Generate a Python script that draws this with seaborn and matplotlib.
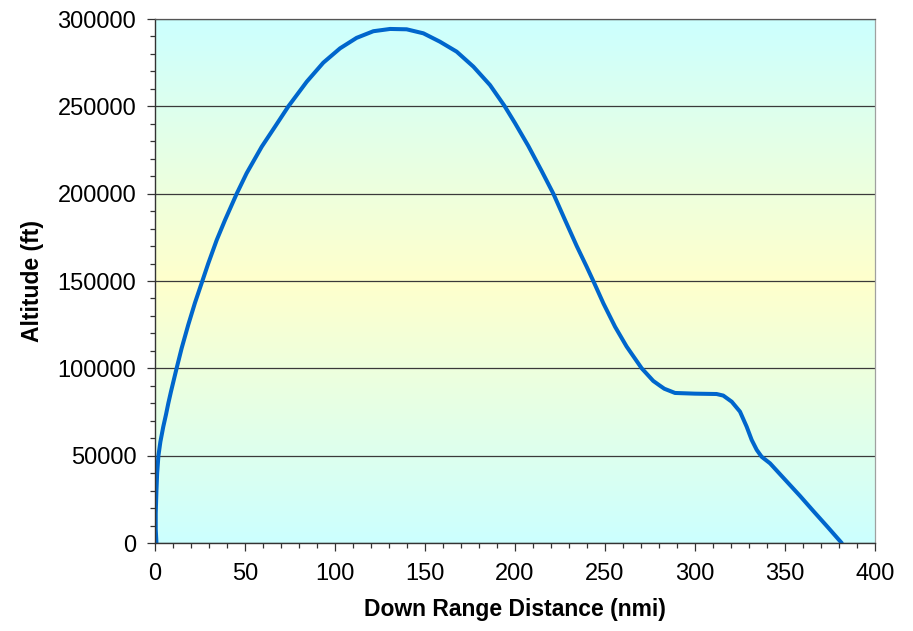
import numpy as np
import pandas as pd
import matplotlib
matplotlib.use("Agg")
import matplotlib.pyplot as plt
from matplotlib.colors import LinearSegmentedColormap
from matplotlib.ticker import MultipleLocator
import seaborn as sns

# Trajectory profile: down-range distance (nmi) vs altitude (ft)
distance_nmi = [0.8, 0.4, 0.4, 0.8, 1.2, 1.9, 3.0, 4.6, 6.1, 7.4, 8.9, 12.0,
                14.8, 18.5, 22.2, 26.3, 29.6, 34.3, 38.9, 45.4, 50.9, 59.3,
                66.7, 74.1, 84.3, 93.5, 102.8, 112.0, 121.3, 130.6,
                139.8, 149.1, 158.3, 167.6, 176.9, 186.1, 194.0, 200.0, 207.4,
                214.8, 221.3, 227.8, 234.3, 239.8, 243.5, 249.1, 255.6, 262.0,
                270.4, 276.8, 280.6, 283.0, 288.9, 300.0, 312.0, 315.7, 320.4,
                325.0, 328.7, 331.5, 334.3, 337.0, 341.7, 349.1, 358.3, 366.0,
                374.0, 381.5]
altitude_ft = [0, 8000, 17000, 30000, 40000, 50000, 58000, 66600, 73500, 80000,
               86800, 100000, 111500, 125000, 137500, 150000, 160100, 173500,
               184900, 200000, 211700, 226900, 238400, 250000, 264100,
               275000, 283200, 289200, 293000, 294300, 294100, 291800, 287000,
               281300, 272700, 262200, 250500, 240400, 227300, 213000, 200000,
               184900, 170000, 158200, 150000, 137200, 123800, 112500, 100000,
               92800, 90000, 88300, 85900, 85500, 85300, 84400, 80900, 75200,
               66600, 59000, 53300, 49400, 45600, 37300, 27000, 18000, 8800, 0]

x_ticks = [0, 50, 100, 150, 200, 250, 300, 350, 400]
y_ticks = [0, 50000, 100000, 150000, 200000, 250000, 300000]

df = pd.DataFrame({"distance": distance_nmi, "altitude": altitude_ft})

sns.set_style("ticks")
plt.rcParams["font.family"] = ["Liberation Sans", "DejaVu Sans"]
plt.rcParams["text.color"] = "black"
plt.rcParams["axes.labelcolor"] = "black"

fig = plt.figure(figsize=(9.13, 6.31), dpi=100)
ax = fig.add_axes([155 / 913, 88 / 631, 720 / 913, 524 / 631])

# Vertical cyan -> yellow -> cyan background
grad = LinearSegmentedColormap.from_list("bg", ["#CCFFFF", "#FFFFCC", "#CCFFFF"])
ax.imshow(np.linspace(0, 1, 256).reshape(-1, 1), cmap=grad, aspect="auto",
          extent=[0, 1, 0, 1], transform=ax.transAxes, zorder=0,
          interpolation="bilinear")

sns.lineplot(data=df, x="distance", y="altitude", sort=False, estimator=None,
             color="#0066CC", linewidth=2.9, ax=ax, zorder=3)
for ln in ax.get_lines():
    ln.set_solid_joinstyle("round")
    ln.set_solid_capstyle("round")

ax.set_xlim(0, 400)
ax.set_ylim(0, 300000)
ax.set_xticks(x_ticks)
ax.set_yticks(y_ticks)
ax.set_xticklabels([str(v) for v in x_ticks])
ax.set_yticklabels([str(v) for v in y_ticks])
ax.xaxis.set_minor_locator(MultipleLocator(10))
ax.yaxis.set_minor_locator(MultipleLocator(10000))

ax.grid(axis="y", which="major", color="#3a3a3a", linewidth=0.9)
ax.set_axisbelow(False)
for gl in ax.get_ygridlines():
    gl.set_zorder(1)

ax.tick_params(axis="both", which="major", direction="out", length=5.5,
               width=0.9, color="#333333", labelsize=17, labelcolor="black")
ax.tick_params(axis="x", which="major", pad=9)
ax.tick_params(axis="y", which="major", pad=8)
ax.tick_params(axis="both", which="minor", direction="out", length=3.5,
               width=0.9, color="#333333")

for side in ["left", "bottom"]:
    ax.spines[side].set_color("#333333")
    ax.spines[side].set_linewidth(1.0)
ax.spines["top"].set_color("#555555")
ax.spines["top"].set_linewidth(0.9)
ax.spines["right"].set_color("#a0a0a0")
ax.spines["right"].set_linewidth(0.9)
for sp in ax.spines.values():
    sp.set_visible(True)
    sp.set_zorder(4)

ax.set_xlabel("Down Range Distance (nmi)", fontsize=16.5, fontweight="bold",
              labelpad=9, color="black")
ax.set_ylabel("Altitude (ft)", fontsize=16.5, fontweight="bold", labelpad=10,
              color="black")

fig.savefig("out.png", dpi=100)
